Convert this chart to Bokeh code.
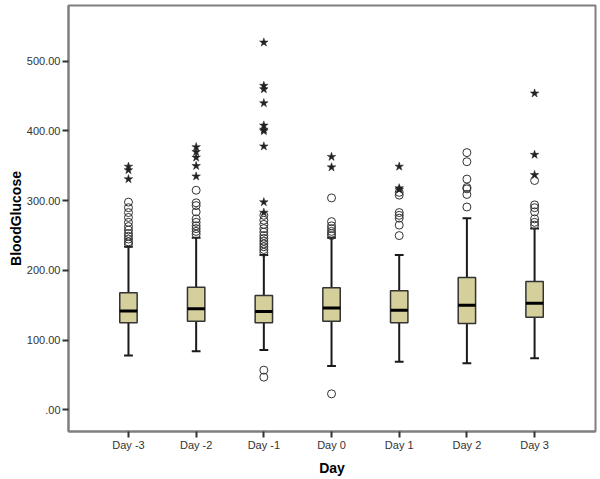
from bokeh.plotting import figure
from bokeh.models import Range1d, FixedTicker, ColumnDataSource
from bokeh.embed import file_html
from bokeh.resources import INLINE

days = ["Day -3", "Day -2", "Day -1", "Day 0", "Day 1", "Day 2", "Day 3"]
q1 = [125, 127, 125, 127, 125, 124, 133]
median = [142, 145, 141, 146, 143, 150, 153]
q3 = [168, 176, 164, 175, 171, 190, 184]
whisker_low = [78, 84, 86, 63, 69, 67, 74]
whisker_high = [234, 247, 222, 247, 222, 275, 260]

outliers_circle = [
    [298, 290, 283, 276, 269, 263, 258, 253, 249, 245, 241, 238],
    [315, 297, 293, 284, 274, 269, 264, 260, 256, 252],
    [279, 272, 266, 260, 255, 250, 246, 242, 238, 234, 230, 226, 57, 47],
    [304, 270, 264, 260, 256, 253, 250, 23],
    [312, 308, 283, 279, 275, 265, 250],
    [369, 356, 331, 319, 317, 309, 291],
    [329, 294, 290, 284, 274, 269, 265],
]
outliers_extreme = [
    [349, 344, 331],
    [377, 370, 362, 350, 335],
    [527, 465, 460, 440, 408, 402, 400, 378, 298, 283],
    [363, 348],
    [349, 318, 316],
    [],
    [454, 366, 337],
]

y_ticks = [0, 100, 200, 300, 400, 500]
y_tick_labels = [".00", "100.00", "200.00", "300.00", "400.00", "500.00"]

xs = list(range(len(days)))
BOX_W = 0.257
CAP_W = 0.13

p = figure(width=600, height=479, output_backend="svg", toolbar_location=None,
           x_range=Range1d(-0.886, 6.9), y_range=Range1d(-31, 580),
           min_border_left=68, min_border_right=5, min_border_top=5, min_border_bottom=48)
p.grid.visible = False
p.outline_line_color = "#7f7f7f"
p.outline_line_width = 2
p.background_fill_color = "white"
p.border_fill_color = "white"

box_src = ColumnDataSource(dict(x=xs, q1=q1, med=median, q3=q3, lo=whisker_low, hi=whisker_high,
                                xl=[x - BOX_W / 2 for x in xs], xr=[x + BOX_W / 2 for x in xs],
                                cl=[x - CAP_W / 2 for x in xs], cr=[x + CAP_W / 2 for x in xs]))

# whiskers
p.segment(x0="x", y0="lo", x1="x", y1="q1", source=box_src, line_color="#1a1a1a", line_width=2)
p.segment(x0="x", y0="q3", x1="x", y1="hi", source=box_src, line_color="#1a1a1a", line_width=2)
p.segment(x0="cl", y0="lo", x1="cr", y1="lo", source=box_src, line_color="#1a1a1a", line_width=2)
p.segment(x0="cl", y0="hi", x1="cr", y1="hi", source=box_src, line_color="#1a1a1a", line_width=2)
# boxes
p.quad(left="xl", right="xr", bottom="q1", top="q3", source=box_src,
       fill_color="#D5CF9B", line_color="#333333", line_width=1.5)
p.segment(x0="xl", y0="med", x1="xr", y1="med", source=box_src, line_color="black", line_width=3)

cx, cy, sx, sy = [], [], [], []
for i, vals in enumerate(outliers_circle):
    cx += [xs[i]] * len(vals)
    cy += vals
for i, vals in enumerate(outliers_extreme):
    sx += [xs[i]] * len(vals)
    sy += vals
p.scatter(cx, cy, marker="circle", size=8, fill_color=None, line_color="#333333", line_width=1)
p.scatter(sx, sy, marker="star", size=9, fill_color="#222222", line_color="#222222", line_width=0.5)

FONT = "Liberation Sans"
for ax in (p.xaxis[0], p.yaxis[0]):
    ax.axis_line_color = "#7f7f7f"
    ax.axis_line_width = 2
    ax.major_tick_in = 0
    ax.major_tick_out = 6
    ax.major_tick_line_color = "#333333"
    ax.major_tick_line_width = 2
    ax.minor_tick_line_color = None
    ax.major_label_text_font = FONT
    ax.major_label_text_font_size = "11px"
    ax.major_label_text_color = "#333333"
    ax.axis_label_text_font = FONT
    ax.axis_label_text_font_size = "14px"
    ax.axis_label_text_font_style = "bold"
    ax.axis_label_text_color = "black"

p.xaxis.ticker = FixedTicker(ticks=xs)
p.xaxis.major_label_overrides = {x: d for x, d in zip(xs, days)}
p.xaxis.axis_label = "Day"
p.xaxis.major_label_standoff = 1
p.xaxis.axis_label_standoff = 6

p.yaxis.ticker = FixedTicker(ticks=y_ticks)
p.yaxis.major_label_overrides = {t: l for t, l in zip(y_ticks, y_tick_labels)}
p.yaxis.axis_label = "BloodGlucose"
p.yaxis.major_label_standoff = 2
p.yaxis.axis_label_standoff = 0

open("out.html", "w").write(file_html(p, INLINE))
